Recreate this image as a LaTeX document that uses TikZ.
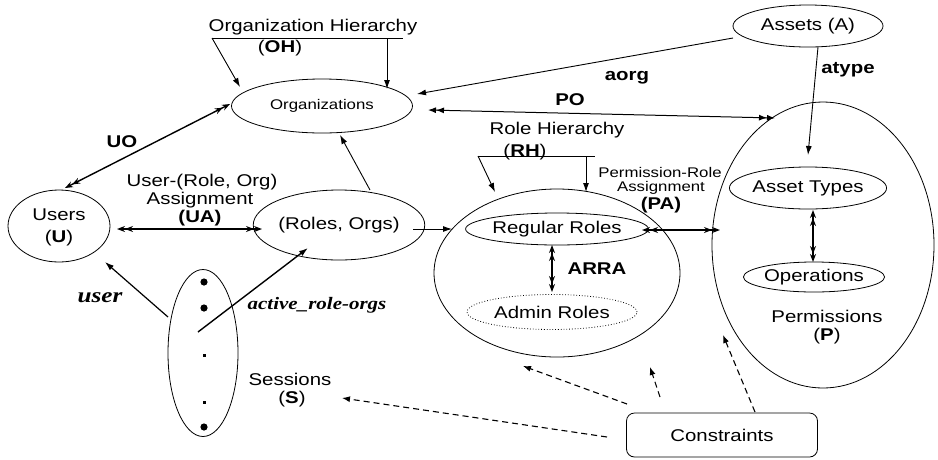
\documentclass[tikz,border=0pt]{standalone}
\usepackage{fontspec}
\setmainfont{Liberation Sans}[FakeStretch=1.2]
\newfontfamily\tnr{Liberation Serif}[FakeStretch=1.2]
\usetikzlibrary{shapes.geometric,arrows.meta}
\begin{document}
\begin{tikzpicture}[x=1pt,y=-1pt,
  every node/.style={inner sep=0pt, outer sep=0pt},
  set/.style={draw, ellipse, line width=0.8pt},
  bigt/.style={font=\fontsize{17}{19}\selectfont},
  smallt/.style={font=\fontsize{14}{16}\selectfont},
  boldt/.style={font=\fontsize{17}{19}\selectfont\bfseries},
  conn/.style={line width=0.9pt},
  arr/.style={conn,-{Latex[length=9pt,width=6pt]}},
  darr/.style={line width=1.4pt,{Stealth[length=8pt,width=6pt]Stealth[length=8pt,width=6pt]}-{Stealth[length=8pt,width=6pt]Stealth[length=8pt,width=6pt]}},
  poarr/.style={line width=1pt,{Latex[length=8pt,width=6pt]Latex[length=8pt,width=6pt]}-{Latex[length=8pt,width=6pt]Latex[length=8pt,width=6pt]}},
  dsh/.style={line width=1.1pt, dash pattern=on 6pt off 4pt, -{Latex[length=8pt,width=6pt]}},
]
\useasboundingbox (0,0) rectangle (938,459);

% ---------- ellipses ----------
\node[set, smallt, minimum width=181pt, minimum height=54pt] (org) at (322,106) {Organizations};
\node[set, bigt, minimum width=150pt, minimum height=42pt] (assets) at (808,26) {Assets (A)};
\node[set, minimum width=222pt, minimum height=286pt] (perm) at (823,245) {};
\node[set, bigt, minimum width=150pt, minimum height=42pt] (atypes) at (808,188) {Asset Types};
\node[set, bigt, minimum width=138pt, minimum height=30pt] (ops) at (814,277) {Operations};
\node[set, minimum width=246pt, minimum height=168pt] (roles) at (557,273) {};
\node[set, bigt, minimum width=160pt, minimum height=32pt] (regular) at (557,229) {Regular Roles};
\node[set, bigt, dotted, minimum width=170pt, minimum height=35pt] (admin) at (552,312) {Admin Roles};
\node[set, minimum width=102pt, minimum height=72pt] (users) at (59,226) {};
\node[set, bigt, minimum width=148pt, minimum height=70pt] (ro) at (339,225) {(Roles, Orgs)};
\node[set, minimum width=70pt, minimum height=167pt] (sess) at (203,353) {};
\node[draw, line width=0.8pt, rounded corners=8pt, minimum width=191pt, minimum height=44pt, bigt] (cons) at (722,435) {Constraints};

% ---------- texts ----------
\node[bigt] (usersT) at (59,215) {Users};
\node[bigt] (usersU) at (59,238) {(\textbf{U})};
\node[bigt] (ohT) at (313,27) {Organization Hierarchy};
\node[bigt] (ohL) at (280,48) {(\textbf{OH})};
\node[boldt] (uoL) at (122,142) {UO};
\node[bigt] (uaT1) at (202,182) {User-(Role, Org)};
\node[bigt] (uaT2) at (200,200) {Assignment};
\node[boldt] (uaL) at (200,218) {(UA)};
\node[boldt] (poL) at (570,100) {PO};
\node[boldt] (aorgL) at (627,78) {aorg};
\node[boldt] (atypeL) at (848,70) {atype};
\node[bigt] (rhT) at (557,130) {Role Hierarchy};
\node[bigt] (rhL) at (525,152) {(\textbf{RH})};
\node[smallt] (paT1) at (660,172) {Permission-Role};
\node[smallt] (paT2) at (661,188) {Assignment};
\node[boldt] (paL) at (661,205) {(PA)};
\node[boldt] (arraL) at (597,269) {ARRA};
\node[bigt] (permT) at (827,316) {Permissions};
\node[bigt] (permP) at (827,336) {(\textbf{P})};
\node[font=\fontsize{21}{23}\selectfont\tnr\bfseries\itshape] (userL) at (100,298) {user};
\node[font=\fontsize{17.5}{19}\selectfont\tnr\bfseries\itshape] (activeL) at (317,305) {active\_role-orgs};
\node[bigt] (sessT) at (290,379) {Sessions};
\node[bigt] (sessS) at (292,399) {(\textbf{S})};

% ---------- session dots ----------
\fill (204,282) circle (3.6pt);
\fill (204,308) circle (3.6pt);
\fill (202.5,353.5) rectangle (205.5,356.5);
\fill (202.5,400.5) rectangle (205.5,403.5);
\fill (204,427) circle (3.6pt);

% ---------- coordinates ----------
\coordinate (oh1) at (212,38);
\coordinate (oh2) at (403,38);
\coordinate (oh3) at (387,38);
\coordinate (ohA) at (240,87);
\coordinate (ohB) at (387,89);
\coordinate (rh1) at (478,156);
\coordinate (rh2) at (595,156);
\coordinate (rh3) at (586,156);
\coordinate (rhA) at (495,192);
\coordinate (rhB) at (586,192);

% ---------- connectors ----------
\draw[conn] (oh1) -- (oh2);
\draw[arr] (oh1) -- (ohA);
\draw[arr] (oh3) -- (ohB);
\draw[conn] (rh1) -- (rh2);
\draw[arr] (rh1) -- (rhA);
\draw[arr] (rh3) -- (rhB);

\draw[arr] (733,38) -- (417,94);
\draw[poarr] (428,110) -- (775,118);
\draw[darr] (65,188) -- (230,104);
\draw[darr] (117,229) -- (262,229);
\draw[arr] (370,190) -- (340,135);
\draw[arr] (413,229) -- (452,229);
\draw[darr] (642,230) -- (720,230);
\draw[darr] (552,245) -- (552,292);
\draw[arr] (818,47) -- (808,155);
\draw[darr] (813,210) -- (813,262);
\draw[arr, line width=1.2pt] (168,317) -- (105,262);
\draw[arr, line width=1.4pt] (198,332) -- (308,248);

\draw[dsh] (607,437) -- (342,398);
\draw[dsh] (627,404) -- (523,366);
\draw[dsh] (660,397) -- (650,367);
\draw[dsh] (755,412) -- (723,335);
\end{tikzpicture}
\end{document}
